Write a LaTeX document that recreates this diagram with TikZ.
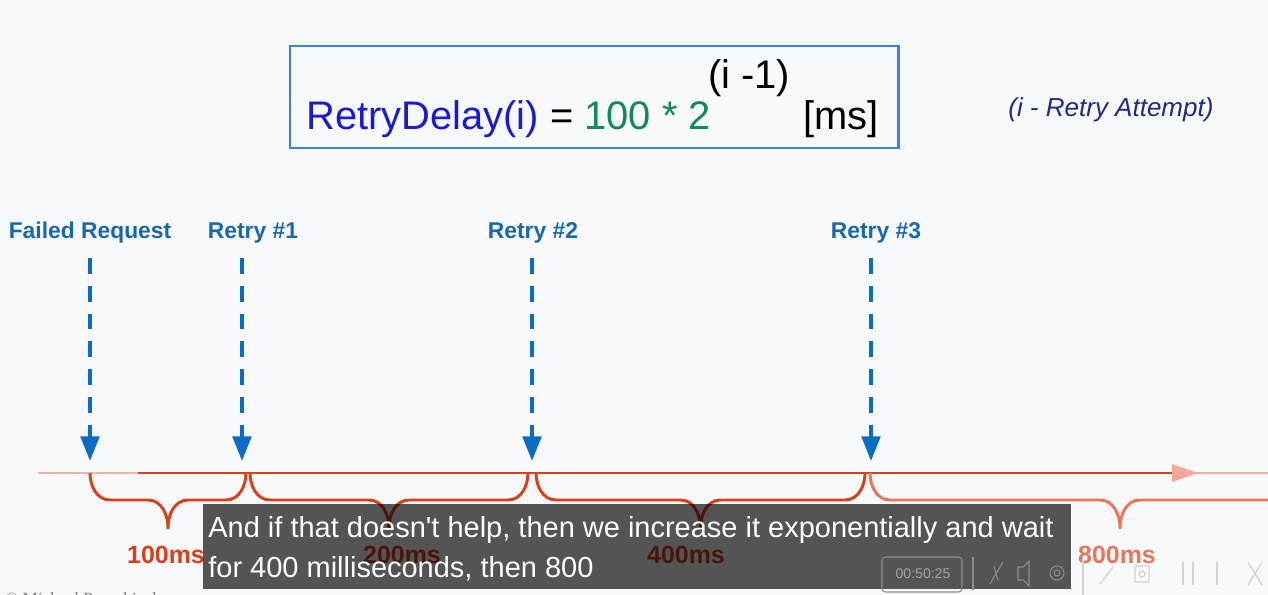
\documentclass[tikz,border=0pt]{standalone}
\usepackage{fontspec}
\setmainfont{Liberation Sans}
\newfontfamily\copyfont{Liberation Serif}
\usetikzlibrary{arrows.meta,positioning,calc}

\definecolor{bgGray}{HTML}{F8F9FA}
\definecolor{frameBlue}{HTML}{3C82E6}
\definecolor{delayBlue}{HTML}{1A1AD2}
\definecolor{delayGreen}{HTML}{108A58}
\definecolor{noteNavy}{HTML}{1E2A86}
\definecolor{lblBlue}{HTML}{1868B0}
\definecolor{arrBlue}{HTML}{0A6CC4}
\definecolor{lineRed}{HTML}{D9401A}
\definecolor{linePink}{HTML}{F4B4A4}
\definecolor{tipSalmon}{HTML}{F4A898}
\definecolor{lastRed}{HTML}{E8765C}
\definecolor{ctrlGray}{HTML}{8C8C8C}
\definecolor{ctrlLight}{HTML}{D2D2D2}

\begin{document}
\begin{tikzpicture}[
  x=0.02cm, y=-0.02cm,
  formula/.style={anchor=base west, inner sep=0pt, font=\fontsize{22.7}{26}\selectfont},
  lbl/.style={anchor=base, inner sep=0pt, text=lblBlue, font=\fontsize{13}{15}\selectfont\bfseries},
  ms/.style={anchor=base, inner sep=0pt, font=\fontsize{14.2}{16}\selectfont\bfseries},
  caption/.style={anchor=base west, inner sep=0pt, text=white, font=\fontsize{16.5}{20}\selectfont},
  darr/.style={-{Triangle[length=14pt,width=10.5pt]}, arrBlue, line width=2.2pt, dash pattern=on 9pt off 6.8pt},
  brace/.style={line width=1.7pt, line join=round},
  tl/.style={line width=1.7pt},
  ctrl/.style={draw=ctrlGray, line width=0.6pt},
  ctrlout/.style={draw=ctrlLight, line width=0.7pt}
]
\useasboundingbox (0,0) rectangle (1268,595);
\clip (0,0) rectangle (1268,595);
\fill[bgGray] (0,0) rectangle (1268,595);

% formula
\draw[frameBlue, line width=1.7pt] (290,46) rectangle (898,148);
\node[formula] (delay) at (306,129) {\textcolor{delayBlue}{RetryDelay(i)} = \textcolor{delayGreen}{100 * 2}};
\node[formula] (expo) at (708,88) {(i -1)};
\node[formula] (unit) at (803,129) {[ms]};
\node[anchor=base west, inner sep=0pt, text=noteNavy, font=\fontsize{14.8}{17}\selectfont\itshape] (note) at (1008,116) {(i - Retry Attempt)};

% labels
\node[lbl] (failed) at (90,238) {Failed Request};
\node[lbl] (retry1) at (253,238) {Retry \#1};
\node[lbl] (retry2) at (533,238) {Retry \#2};
\node[lbl] (retry3) at (876,238) {Retry \#3};

% timeline
\coordinate (tstart) at (38,473);
\coordinate (tfade) at (138,473);
\coordinate (tlast) at (1182,473);
\coordinate (tend) at (1268,473);
\draw[tl, linePink] (tstart) -- (tfade);
\draw[tl, lineRed] (tfade) -- (tlast);
\draw[tl, tipSalmon] (tlast) -- (tend);
\fill[tipSalmon] (1172,464) -- (1198,473) -- (1172,482) -- cycle;

% dashed arrows
\foreach \nm/\xx in {f/90, a/242, b/532, c/871} {
  \coordinate (top\nm) at (\xx,258);
  \coordinate (hit\nm) at (\xx,461);
  \draw[darr] (top\nm) -- (hit\nm);
}

% braces
\foreach \xa/\xb/\col in {90/246/lineRed, 250/528/lineRed, 536/865/lineRed, 870/1370/lastRed} {
  \pgfmathsetmacro\xm{(\xa+\xb)/2}
  \draw[brace, \col] (\xa,473) to[out=-90,in=180] (\xa+20,500) -- (\xm-20,500)
    to[out=0,in=90] (\xm,528) to[out=90,in=180] (\xm+20,500) -- (\xb-20,500)
    to[out=0,in=-90] (\xb,473);
}
\node[ms, text=lineRed] (d100) at (166,563) {100ms};
\node[ms, text=lineRed] (d200) at (402,563) {200ms};
\node[ms, text=lineRed] (d400) at (686,563) {400ms};
\node[ms, text=lastRed] (d800) at (1117,563) {800ms};

% caption overlay
\fill[black, fill opacity=0.66] (203,504) rectangle (1071,589);
\node[caption] (cap1) at (208,537) {And if that doesn\textquotesingle t help, then we increase it exponentially and wait};
\node[caption] (cap2) at (208,577) {for 400 milliseconds, then 800};

% player controls
\draw[ctrl, rounded corners=2pt] (882,557) rectangle (962,592);
\node[text=ctrlGray!80, inner sep=0pt, font=\fontsize{8}{9}\selectfont] (clock) at (923,574) {00:50:25};
\draw[ctrl] (973,557) -- (973,590);
\draw[ctrl] (990,584) -- (1003,562) (994,566) -- (998,580);
\draw[ctrl] (1018,567) -- (1023,567) -- (1029,561) -- (1029,586) -- (1023,580) -- (1018,580) -- cycle;
\draw[ctrl] (1057,573) circle (7) (1057,573) circle (3);
\draw[ctrlout] (1083,557) -- (1083,595);
\draw[ctrlout] (1100,584) -- (1113,567);
\draw[ctrlout] (1135,566) rectangle (1149,582) (1142,574) circle (3);
\draw[ctrlout] (1183,562) -- (1183,585) (1193,562) -- (1193,585);
\draw[ctrlout] (1217,562) -- (1217,585);
\draw[ctrlout] (1248,562) -- (1262,585) (1262,562) -- (1248,585);

% credit, cut by the frame edge
\node[anchor=base west, inner sep=0pt, text=gray, font=\copyfont\fontsize{9.8}{11}\selectfont] (credit) at (5,604) {© Michael Pogrebinsky};
\end{tikzpicture}
\end{document}
